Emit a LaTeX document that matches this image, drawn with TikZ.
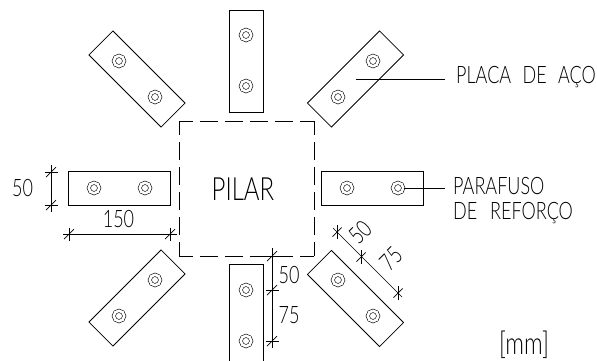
\documentclass[tikz,border=0pt]{standalone}
\usepackage{fontspec}
\setmainfont[UprightFont={* Light},FakeStretch=0.75]{Lato}
\tikzset{
	plate/.style={draw,line width=0.8pt,minimum width=102pt,minimum height=34pt,inner sep=0pt},
	bolt/.style={circle,draw,line width=0.6pt,double,double distance=2.6pt,minimum size=10.5pt,inner sep=0pt},
	pilarline/.style={line width=0.8pt,dash pattern=on 18.5pt off 6.5pt,dash phase=4.25pt},
	leader/.style={line width=0.8pt},
	dimline/.style={line width=0.7pt},
	lbl/.style={font=\fontsize{24}{24}\selectfont,inner sep=0pt},
	dimtick/.pic={
		\draw[dimline] (-6.5,0) -- (6.5,0);
		\draw[dimline] (-5,5) -- (5,-5);
	}
}
\begin{document}
\begin{tikzpicture}[x=1pt,y=-1pt]
		\clip (0,0) rectangle (597,360);
		\useasboundingbox (0,0) rectangle (597,360);
		\node[plate] (PT) at (246,61) [rotate=90] {};
		\node[plate] (PL) at (119.5,188.5) {};
		\node[plate] (PR) at (372.5,188.5) {};
		\node[plate] (PB) at (246,315.5) [rotate=90] {};
		\node[plate] (PUL) at (137,79) [rotate=-45] {};
		\node[plate] (PUR) at (355.5,79) [rotate=45] {};
		\node[plate] (PLL) at (137,298) [rotate=45] {};
		\node[plate] (PLR) at (355.5,298.5) [rotate=-45] {};
		%
		\foreach \name/\x/\y in {T1/246/35,T2/246/86,L1/94/188,L2/145/188,R1/347/188,R2/398/188,
			B1/246/290,B2/246/341,UL1/119/61,UL2/155/97,UR1/373/61,UR2/338/97,
			LL1/155/280,LL2/119/316,LR1/338/280,LR2/373/316}
			\node[bolt] (\name) at (\x,\y) {};
		%
		\coordinate (NW) at (179,121);
		\coordinate (NE) at (314,121);
		\coordinate (SE) at (314,256);
		\coordinate (SW) at (179,256);
		\path[pilarline]
		(NW) edge (NE)
		(NW) edge (SW)
		(SW) edge (SE)
		(NE) edge (SE);
		\node[lbl,font=\fontsize{32}{32}\selectfont] (PILAR) at (243,189) {PILAR};
		%
		\coordinate (placaEnd) at (445,79);
		\coordinate (parafusoEnd) at (445,188);
		\draw[leader] (PUR.center) -- (placaEnd);
		\draw[leader] (R2) -- (parafusoEnd);
		\node[lbl,anchor=west] (PLACA) at (456,77) {PLACA\hspace{6.5pt} DE\hspace{6.5pt} AÇO};
		\node[lbl,anchor=west] (PARAFUSO) at (453,186) {PARAFUSO};
		\node[lbl,anchor=west] (REFORCO) at (453,213) {DE\hspace{8pt} REFORÇO};
		\node[lbl,font=\fontsize{31}{31}\selectfont] (MM) at (524,345) {[mm]};
		%
		\coordinate (V1) at (51,172);
		\coordinate (V2) at (51,205);
		\coordinate (V1e) at (51,165);
		\coordinate (V2e) at (51,212);
		\draw[dimline] (V1e) -- (V2e);
		\pic at (V1) {dimtick};
		\pic at (V2) {dimtick};
		\node[lbl] (V50) at (22.5,188) {50};
		%
		\coordinate (H1) at (69,234);
		\coordinate (H2) at (170,234);
		\coordinate (H1e) at (63,234);
		\coordinate (H2e) at (177,234);
		\draw[dimline] (H1e) -- (H2e);
		\pic[rotate=90,xscale=-1] at (H1) {dimtick};
		\pic[rotate=90,xscale=-1] at (H2) {dimtick};
		\node[lbl] (H150) at (118.5,219.5) {150};
		%
		\coordinate (B1d) at (272,256);
		\coordinate (B2d) at (272,290);
		\coordinate (B3d) at (272,341);
		\coordinate (B1e) at (272,248);
		\coordinate (B3e) at (272,348);
		\draw[dimline] (B1e) -- (B3e);
		\pic at (B1d) {dimtick};
		\pic at (B2d) {dimtick};
		\pic at (B3d) {dimtick};
		\node[lbl] (B50) at (289,275) {50};
		\node[lbl] (B75) at (289,315) {75};
		%
		\coordinate (D1) at (337,232);
		\coordinate (D2) at (361,257);
		\coordinate (D3) at (398,293);
		\coordinate (D1e) at (333,228);
		\coordinate (D3e) at (402,297);
		\draw[dimline] (D1e) -- (D3e);
		\pic[rotate=45] at (D1) {dimtick};
		\pic[rotate=45] at (D2) {dimtick};
		\pic[rotate=45] at (D3) {dimtick};
		\node[lbl,rotate=45] (D50) at (360,232) {50};
		\node[lbl,rotate=45] (D75) at (391,259) {75};
		\end{tikzpicture}
\end{document}
